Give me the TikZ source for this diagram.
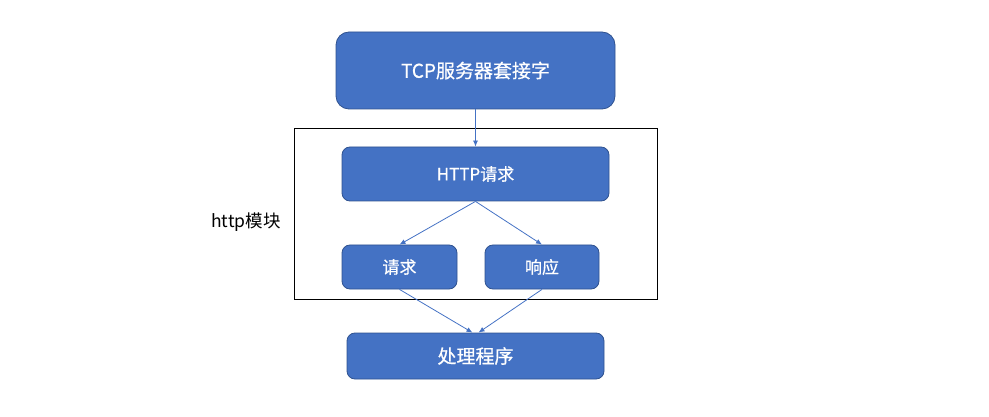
\documentclass[tikz,border=0pt]{standalone}
\usepackage{fontspec}
\setmainfont{Noto Sans CJK SC}
\newfontfamily\boxfont[FakeBold=0.6]{Noto Sans CJK SC}
\usetikzlibrary{arrows.meta}
\definecolor{boxfill}{HTML}{4472C4}
\definecolor{boxline}{HTML}{2F528F}
\tikzset{
  blockbox/.style={draw=boxline, line width=0.8pt, fill=boxfill, rounded corners=#1,
    text=white, inner sep=0pt},
  blockbox/.default=8pt,
  flow/.style={draw=boxfill, line width=0.8pt, -{Latex[length=6pt,width=5pt]}},
}
\begin{document}
\begin{tikzpicture}[x=1pt,y=-1pt]
  \useasboundingbox (0,0) rectangle (989,417);
  % module frame
  \draw[line width=0.9pt] (294,128) rectangle (657,299);
  \node[anchor=center, font=\fontsize{17.5}{20}\selectfont] (mod) at (246,222) {http模块};
  % blocks
  \node[blockbox=13pt, minimum width=279pt, minimum height=77pt, font=\boxfont\fontsize{19}{22}\selectfont]
    (tcp) at (475.5,70.5) {TCP服务器套接字};
  \node[blockbox, minimum width=267pt, minimum height=54pt, font=\boxfont\fontsize{17}{20}\selectfont]
    (http) at (475.5,174) {HTTP请求};
  \node[blockbox, minimum width=115pt, minimum height=44pt, font=\boxfont\fontsize{17}{20}\selectfont]
    (req) at (399.5,267) {请求};
  \node[blockbox, minimum width=114pt, minimum height=44pt, font=\boxfont\fontsize{17}{20}\selectfont]
    (resp) at (542,267) {响应};
  \node[blockbox, minimum width=257pt, minimum height=46pt, font=\boxfont\fontsize{19}{22}\selectfont]
    (proc) at (475.5,356) {处理程序};
  % connectors
  \draw[flow] (tcp.south) -- (http.north);
  \draw[flow] (http.south) -- (req.north);
  \draw[flow] (http.south) -- (resp.north);
  \draw[flow] (req.south) -- ([xshift=-3pt]proc.north);
  \draw[flow] (resp.south) -- ([xshift=3pt]proc.north);
\end{tikzpicture}
\end{document}
